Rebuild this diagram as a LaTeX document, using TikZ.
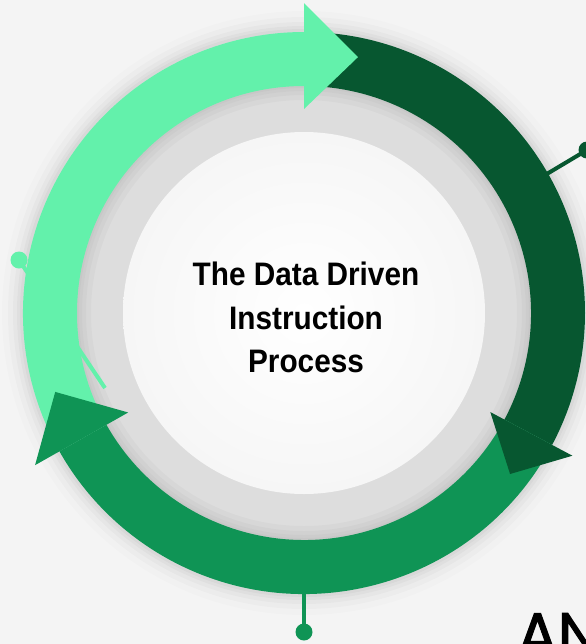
\documentclass[tikz,border=0pt]{standalone}
\usepackage{fontspec}
\usetikzlibrary{calc}
\newfontfamily\titlefont[FakeStretch=0.915]{Liberation Sans}
\newfontfamily\anfont[FakeBold=1.6]{Poppins}
\definecolor{lg}{HTML}{63F1AB}
\definecolor{dg}{HTML}{075730}
\definecolor{mg}{HTML}{0F9455}
\definecolor{ringgray}{HTML}{DDDDDD}
\definecolor{bggray}{HTML}{F4F4F4}
\definecolor{innerwhite}{HTML}{F6F6F6}
\begin{document}
\begin{tikzpicture}[x=0.75pt,y=0.75pt,
  dotnode/.style={circle, inner sep=0pt, minimum size=12.75pt, draw=none},
  leader/.style={line width=3pt},
  titletext/.style={font=\titlefont\bfseries\fontsize{24.4}{33}\selectfont, inner sep=0pt, anchor=base, text=black}
]
\useasboundingbox (0,0) rectangle (586,-644);
\clip (0,0) rectangle (586,-644);
\fill[bggray] (0,0) rectangle (586,-644);
\coordinate (c) at (304,-313);
% soft halo around the ring
\foreach \r/\o in {302/0.012, 296/0.018, 291/0.022, 287/0.028, 284/0.03} {
  \fill[black, opacity=\o] (c) circle[radius=\r];
}
% gray ring
\fill[ringgray] (c) circle[radius=281];
\foreach \k in {3,6,10,15} {
  \fill[black, opacity=0.022, even odd rule] (c) circle[radius=228] (c) circle[radius={228-\k}];
}
% white centre
\shade[inner color=white, outer color=innerwhite] (c) circle[radius=181];
% leader lines and dots
\node[dotnode, fill=lg] (d1) at (19,-260) {};
\coordinate (e1) at (105,-388);
\draw[leader, lg] (d1.center) -- (e1);
\node[dotnode, fill=dg] (d2) at (587,-150) {};
\coordinate (e2) at (530,-184);
\draw[leader, dg] (d2.center) -- (e2);
\node[dotnode, fill=mg] (d3) at (304,-632) {};
\coordinate (e3) at (304,-570);
\draw[leader, mg, line width=2.4pt] (d3.center) -- (e3);
% band shafts
\fill[lg] ($(c)+(209.5:281)$) arc[start angle=209.5, end angle=90, radius=281]
  -- ($(c)+(90:227)$) arc[start angle=90, end angle=209.5, radius=227] -- cycle;
\fill[dg] ($(c)+(90:281)$) arc[start angle=90, end angle=-28, radius=281]
  -- ($(c)+(-28:227)$) arc[start angle=-28, end angle=90, radius=227] -- cycle;
\fill[mg] ($(c)+(-28:281)$) arc[start angle=-28, end angle=-150.5, radius=281]
  -- ($(c)+(-150.5:227)$) arc[start angle=-150.5, end angle=-28, radius=227] -- cycle;
% arrow heads
\fill[lg] ($(c)+(90:204)$) -- ($(c)+(90:310)$) -- ($(c)+(78.1:261.5)$) -- cycle;
\fill[dg] ($(c)+(-28:211)$) -- ($(c)+(-28:304)$) -- ($(c)+(-38:261.5)$) -- cycle;
\fill[mg] ($(c)+(209.5:202)$) -- ($(c)+(209.5:309)$) -- ($(c)+(197.6:261)$) -- cycle;
% title
\node[titletext] (t1) at (306,-285) {The Data Driven};
\node[titletext] (t2) at (306,-329) {Instruction};
\node[titletext] (t3) at (306,-372) {Process};
% cut-off text
\node[font=\anfont\fontsize{45}{45}\selectfont, anchor=base west, inner sep=0pt, text=black] (an) at (517,-655) {AN};
\end{tikzpicture}
\end{document}
